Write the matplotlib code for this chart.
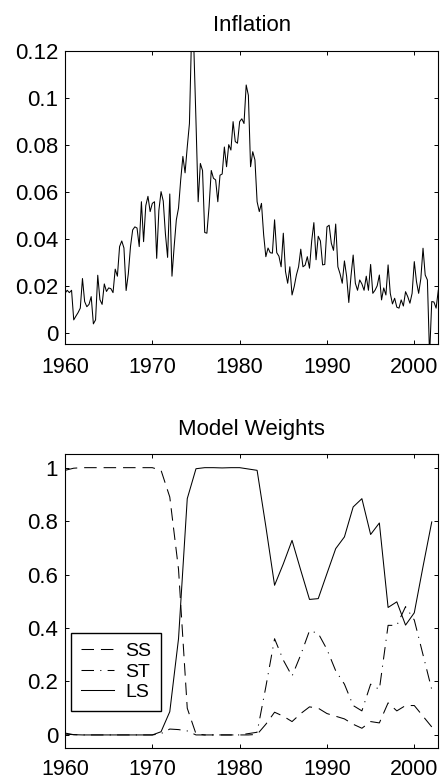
import numpy as np
import matplotlib
matplotlib.use("Agg")
import matplotlib.pyplot as plt
from matplotlib.ticker import FuncFormatter

plt.rcParams['font.family'] = ['Liberation Sans', 'DejaVu Sans']
plt.rcParams['lines.scale_dashes'] = False

# quarterly inflation, 1960Q1 .. 2002Q4
inflation = [
    0.0167, 0.018, 0.017, 0.018,
    0.0054, 0.007, 0.0085, 0.0104,
    0.023, 0.0132, 0.011, 0.012,
    0.0153, 0.0037, 0.0054, 0.0244,
    0.014, 0.012, 0.0207, 0.0175,
    0.019, 0.0187, 0.017, 0.027,
    0.024, 0.0366, 0.039, 0.036,
    0.0179, 0.025, 0.0366, 0.0437,
    0.045, 0.0445, 0.0366, 0.0557,
    0.0387, 0.054, 0.058, 0.0515,
    0.055, 0.0557, 0.0316, 0.052,
    0.060, 0.056, 0.042, 0.032,
    0.059, 0.024, 0.0366, 0.048,
    0.053, 0.065, 0.075, 0.068,
    0.079, 0.089, 0.128, 0.122,
    0.09, 0.0557, 0.072, 0.069,
    0.0426, 0.0423, 0.0536, 0.069,
    0.0657, 0.065, 0.0557, 0.067,
    0.0675, 0.079, 0.0706, 0.080,
    0.0777, 0.0898, 0.0813, 0.0806,
    0.0898, 0.091, 0.089, 0.1054,
    0.101, 0.0706, 0.077, 0.0735,
    0.0557, 0.0515, 0.055, 0.0416,
    0.0323, 0.036, 0.034, 0.0338,
    0.048, 0.034, 0.0325, 0.028,
    0.0423, 0.026, 0.021, 0.028,
    0.016, 0.0196, 0.0245, 0.028,
    0.0355, 0.028, 0.0287, 0.0323,
    0.0274, 0.039, 0.0468, 0.031,
    0.041, 0.039, 0.0288, 0.029,
    0.045, 0.0457, 0.038, 0.035,
    0.0462, 0.028, 0.025, 0.021,
    0.0305, 0.024, 0.0128, 0.024,
    0.033, 0.021, 0.018, 0.0224,
    0.0207, 0.018, 0.024, 0.018,
    0.029, 0.0167, 0.018, 0.0199,
    0.0245, 0.0139, 0.019, 0.016,
    0.0288, 0.0167, 0.0122, 0.0146,
    0.0108, 0.0104, 0.0139, 0.0113,
    0.0174, 0.0153, 0.0125, 0.0167,
    0.0302, 0.0217, 0.0167, 0.023,
    0.0359, 0.0245, 0.0224, -0.01,
    0.0132, 0.013, 0.0104, 0.018,
]
quarters = 1960 + np.arange(len(inflation)) / 4.0

# annual model weights, 1960 .. 2002
weight_years = np.arange(1960, 2003)
ss = [0.99, 0.998, 1.0, 1.0, 1.0, 1.0, 1.0, 1.0, 1.0, 1.0,
      1.0, 0.99, 0.89, 0.62, 0.1, 0.004, 0.0, 0.0, 0.0, 0.0,
      0.0, 0.0, 0.002, 0.04, 0.085, 0.07, 0.05, 0.08, 0.105, 0.1,
      0.08, 0.07, 0.06, 0.04, 0.025, 0.05, 0.045, 0.12, 0.09, 0.11,
      0.11, 0.07, 0.03]
st = [0.007, 0.001, 0.0, 0.0, 0.0, 0.0, 0.0, 0.0, 0.0, 0.0,
      0.0, 0.005, 0.022, 0.02, 0.015, 0.0, 0.0, 0.0, 0.0, 0.0,
      0.0, 0.005, 0.01, 0.18, 0.36, 0.28, 0.22, 0.30, 0.39, 0.38,
      0.32, 0.24, 0.19, 0.11, 0.09, 0.19, 0.17, 0.41, 0.41, 0.48,
      0.43, 0.30, 0.17]
ls = [0.003, 0.001, 0.0, 0.0, 0.0, 0.0, 0.0, 0.0, 0.0, 0.0,
      0.0, 0.012, 0.087, 0.36, 0.884, 0.996, 1.0, 1.0, 0.999, 1.0,
      1.0, 0.995, 0.99, 0.78, 0.56, 0.64, 0.728, 0.616, 0.507, 0.51,
      0.604, 0.697, 0.741, 0.853, 0.884, 0.75, 0.793, 0.477, 0.498, 0.411,
      0.457, 0.63, 0.797]

year_ticks = [1960, 1970, 1980, 1990, 2000]

W, H = 441.0, 780.0
fig = plt.figure(figsize=(W / 100, H / 100), dpi=100)
ax1 = fig.add_axes([65 / W, 1 - 344.3 / H, 373.3 / W, 293.6 / H])
ax2 = fig.add_axes([65 / W, 1 - 748.3 / H, 373.3 / W, 294.0 / H])

fmt = FuncFormatter(lambda v, pos: '%g' % round(v, 4))

for ax in (ax1, ax2):
    ax.tick_params(direction='in', top=True, right=True, length=2.8, width=0.7,
                   labelsize=16, colors='black')
    ax.tick_params(axis='x', labelsize=15.5)
    ax.tick_params(axis='y', pad=5)
    for s in ax.spines.values():
        s.set_linewidth(0.8)
        s.set_color('black')
    ax.set_xlim(1960, 2002.75)
    ax.set_xticks(year_ticks)
    ax.yaxis.set_major_formatter(fmt)

ax1.tick_params(axis='x', pad=9)
ax2.tick_params(axis='x', pad=7.5)

ax1.plot(quarters, inflation, color='black', lw=0.75)
ax1.set_ylim(-0.005, 0.12)
ax1.set_yticks([0, 0.02, 0.04, 0.06, 0.08, 0.1, 0.12])
ax1.set_title('Inflation', fontsize=16, pad=14)

ax2.plot(weight_years, ss, color='black', lw=0.75, dashes=(9, 5), label='SS')
ax2.plot(weight_years, st, color='black', lw=0.75, dashes=(9, 4.5, 0.8, 4.5), label='ST')
ax2.plot(weight_years, ls, color='black', lw=0.75, label='LS')
ax2.set_ylim(-0.05, 1.05)
ax2.set_yticks([0, 0.2, 0.4, 0.6, 0.8, 1])
ax2.set_title('Model Weights', fontsize=16, pad=14)

leg = ax2.legend(loc='lower left', bbox_to_anchor=(0.016, 0.127), borderaxespad=0,
                 fontsize=14, handlelength=1.7, handletextpad=0.6, borderpad=0.5,
                 labelspacing=0.15, fancybox=False, framealpha=1)
leg.get_frame().set_edgecolor('black')
leg.get_frame().set_linewidth(1.0)

fig.savefig('out.png', dpi=100)
